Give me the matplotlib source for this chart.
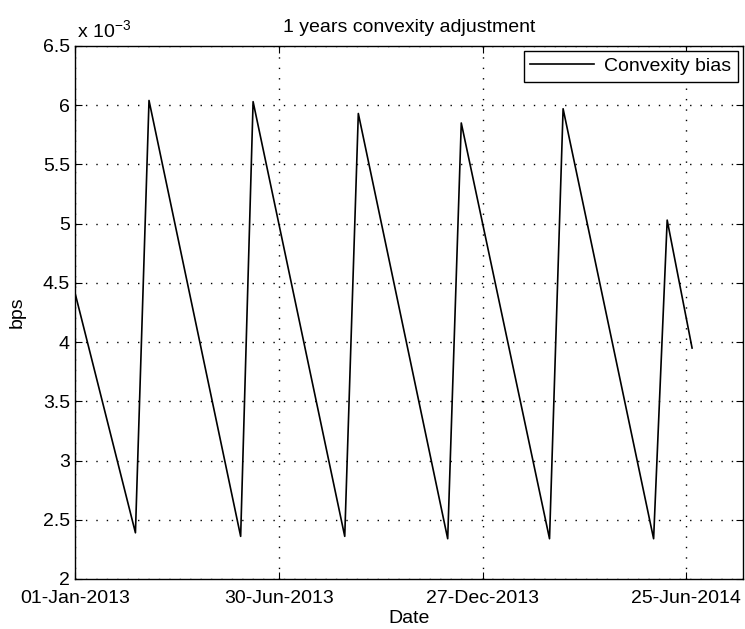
import numpy as np
import matplotlib
matplotlib.use("Agg")
import matplotlib.pyplot as plt
import matplotlib.dates as mdates
from datetime import datetime

# vertices of the sawtooth (values in units of 1e-3)
dates = ["2013-01-01", "2013-02-23", "2013-03-07", "2013-05-27", "2013-06-07",
         "2013-08-27", "2013-09-08", "2013-11-26", "2013-12-08", "2014-02-24",
         "2014-03-08", "2014-05-27", "2014-06-08", "2014-06-30"]
bias = [4.40, 2.39, 6.04, 2.36, 6.03, 2.36, 5.93, 2.34, 5.85, 2.34,
        5.97, 2.34, 5.03, 3.95]

tick_dates = ["2013-01-01", "2013-06-30", "2013-12-27", "2014-06-25"]
x_end = "2014-08-14"

plt.rcParams['font.family'] = ['Liberation Sans', 'DejaVu Sans']
plt.rcParams['mathtext.default'] = 'regular'
fs = 14

def to_dt(s):
    return datetime.strptime(s, "%Y-%m-%d")

x = [to_dt(d) for d in dates]

fig = plt.figure(figsize=(7.45, 6.29), dpi=100)
ax = fig.add_axes([0.1013, 0.0795, 0.896, 0.8474])

ax.plot(x, bias, color='black', linewidth=1.2, label='Convexity bias')

ax.set_xlim(to_dt(tick_dates[0]), to_dt(x_end))
ax.set_ylim(2, 6.5)
ax.set_xticks([to_dt(d) for d in tick_dates])
ax.xaxis.set_major_formatter(mdates.DateFormatter('%d-%b-%Y'))
ax.set_yticks(np.arange(2, 6.51, 0.5))
ax.set_yticklabels(['2', '2.5', '3', '3.5', '4', '4.5', '5', '5.5', '6', '6.5'])

ax.grid(True, color='black', linestyle=(0, (1, 6.5)), linewidth=1.0)
ax.tick_params(direction='in', top=True, right=True, length=5, labelsize=fs)
ax.tick_params(axis='y', pad=4)
ax.tick_params(axis='x', pad=8)
for s in ax.spines.values():
    s.set_linewidth(1.0)

ax.set_title('1 years convexity adjustment', fontsize=fs, pad=10)
ax.set_xlabel('Date', fontsize=fs, labelpad=2)
ax.set_ylabel('bps', fontsize=fs, labelpad=12)
ax.text(0.003, 1.01, r'x 10$^{-3}$', transform=ax.transAxes, fontsize=fs,
        ha='left', va='bottom')

leg = ax.legend(loc='upper right', fancybox=False, framealpha=1, edgecolor='black',
                borderaxespad=0.25, handlelength=3.3, fontsize=fs,
                borderpad=0.35, handletextpad=0.5)
leg.get_frame().set_linewidth(1.0)

fig.savefig('out.png', dpi=100)
